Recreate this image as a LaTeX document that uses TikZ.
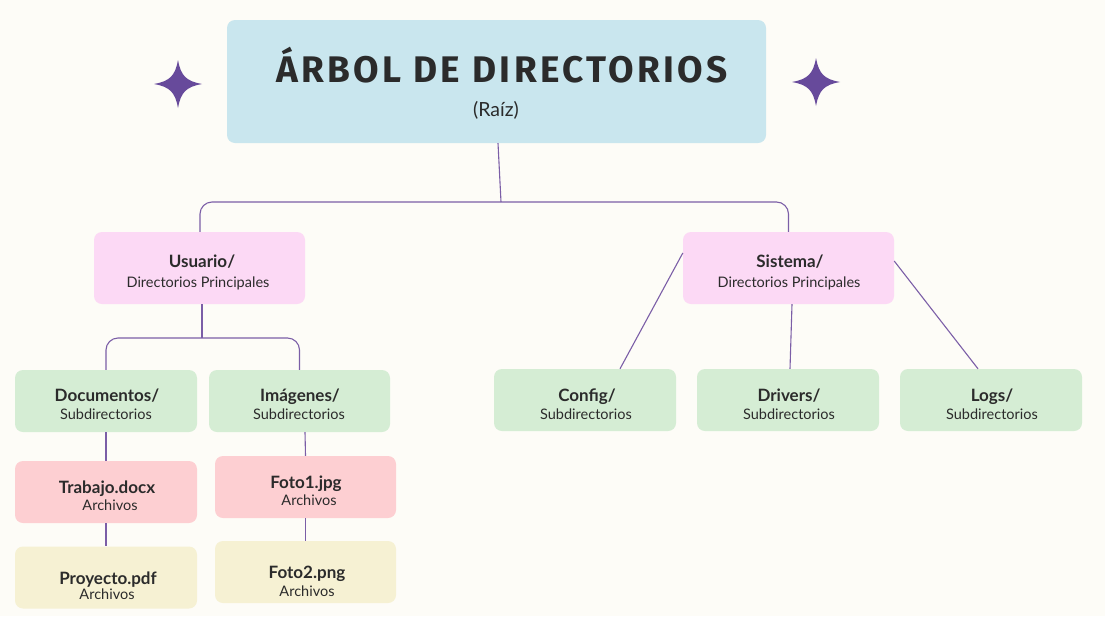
\documentclass[tikz,border=0pt]{standalone}
\usepackage{fontspec}
\setmainfont{Lato}
\newfontfamily\titlefont[LetterSpace=9]{Fira Sans}
\definecolor{bgc}{HTML}{FDFCF7}
\definecolor{rootc}{HTML}{C9E6EE}
\definecolor{pinkc}{HTML}{FCD9F5}
\definecolor{greenc}{HTML}{D5EDD4}
\definecolor{redc}{HTML}{FDCFD2}
\definecolor{yelc}{HTML}{F6F1D3}
\definecolor{linec}{HTML}{7B5EA7}
\definecolor{starc}{HTML}{674A9B}
\definecolor{txtc}{HTML}{2B2B2B}
\begin{document}
\begin{tikzpicture}[x=1pt,y=-1pt,
  box/.style={draw=none,rounded corners=8pt,inner sep=0pt},
  hd/.style={font=\fontsize{17}{19}\selectfont\bfseries,text=txtc,anchor=base,inner sep=0pt},
  sb/.style={font=\fontsize{14.5}{16}\selectfont,text=txtc,anchor=base,inner sep=0pt},
  conn/.style={draw=linec,line width=1.1pt},
  bracket/.style={draw=linec,line width=1.1pt,rounded corners=12pt}]
\fill[bgc] (0,0) rectangle (1105,616);
\useasboundingbox (0,0) rectangle (1105,616);
% root
\node[box,fill=rootc,minimum width=539pt,minimum height=123pt] (root) at (496.5,81.5) {};
\node[font=\titlefont\fontsize{37}{40}\selectfont\bfseries,text=txtc,anchor=base,inner sep=0pt] (title) at (502,82) {ÁRBOL DE DIRECTORIOS};
\node[font=\fontsize{19.5}{22}\selectfont,text=txtc,anchor=base,inner sep=0pt] (raiz) at (496,116) {(Raíz)};
% stars
\foreach \cx/\cy in {178/84,816/82}{
  \fill[starc] (\cx,\cy-24) .. controls (\cx+3,\cy-8) and (\cx+8,\cy-3) .. (\cx+24,\cy)
    .. controls (\cx+8,\cy+3) and (\cx+3,\cy+8) .. (\cx,\cy+24)
    .. controls (\cx-3,\cy+8) and (\cx-8,\cy+3) .. (\cx-24,\cy)
    .. controls (\cx-8,\cy-3) and (\cx-3,\cy-8) .. cycle;
}
% level 1
\node[box,fill=pinkc,minimum width=211pt,minimum height=72pt] (usu) at (199.5,268) {};
\node[hd] (usuA) at (202,267) {Usuario/};
\node[sb] (usuB) at (198,287) {Directorios Principales};
\node[box,fill=pinkc,minimum width=211pt,minimum height=72pt] (sis) at (788.5,268) {};
\node[hd] (sisA) at (790,267) {Sistema/};
\node[sb] (sisB) at (789,287) {Directorios Principales};
% level 2 left
\node[box,fill=greenc,minimum width=182pt,minimum height=62pt] (doc) at (106,401) {};
\node[hd] (docA) at (107,401) {Documentos/};
\node[sb] (docB) at (106,419) {Subdirectorios};
\node[box,fill=greenc,minimum width=181pt,minimum height=62pt] (img) at (299.5,401) {};
\node[hd] (imgA) at (300,401) {Imágenes/};
\node[sb] (imgB) at (299,419) {Subdirectorios};
% level 2 right
\node[box,fill=greenc,minimum width=182pt,minimum height=62pt] (cfg) at (585,400) {};
\node[hd] (cfgA) at (587,401) {Config/};
\node[sb] (cfgB) at (586,419) {Subdirectorios};
\node[box,fill=greenc,minimum width=182pt,minimum height=62pt] (drv) at (788,400) {};
\node[hd] (drvA) at (789,401) {Drivers/};
\node[sb] (drvB) at (789,419) {Subdirectorios};
\node[box,fill=greenc,minimum width=182pt,minimum height=62pt] (logs) at (991,400) {};
\node[hd] (logsA) at (992,401) {Logs/};
\node[sb] (logsB) at (992,419) {Subdirectorios};
% files
\node[box,fill=redc,minimum width=182pt,minimum height=62pt] (trab) at (106,492) {};
\node[hd] (trabA) at (107,493) {Trabajo.docx};
\node[sb] (trabB) at (110,510) {Archivos};
\node[box,fill=yelc,minimum width=182pt,minimum height=62pt] (proy) at (106,577.5) {};
\node[hd] (proyA) at (108,584) {Proyecto.pdf};
\node[sb] (proyB) at (107,599) {Archivos};
\node[box,fill=redc,minimum width=181pt,minimum height=62pt] (f1) at (305.5,487) {};
\node[hd] (f1A) at (306,488) {Foto1.jpg};
\node[sb] (f1B) at (309,505) {Archivos};
\node[box,fill=yelc,minimum width=181pt,minimum height=62pt] (f2) at (305.5,572) {};
\node[hd] (f2A) at (307,578) {Foto2.png};
\node[sb] (f2B) at (307,596) {Archivos};
% connectors
\coordinate (j1) at (501,202);
\coordinate (j2) at (202,338);
\draw[conn] ([xshift=1.5pt]root.south) -- (j1);
\draw[bracket] ([xshift=0.5pt]usu.north) |- (j1) -| (sis.north);
\draw[conn] ([xshift=2.5pt]usu.south) -- (j2);
\draw[bracket] (doc.north) |- (j2) -| (img.north);
\draw[conn] (doc.south) -- (trab.north);
\draw[conn] (trab.south) -- (proy.north);
\draw[conn] ([xshift=5.5pt]img.south) -- (f1.north);
\draw[conn] (f1.south) -- (f2.north);
\draw[conn] ([yshift=15pt]sis.west) -- ([xshift=35pt]cfg.north);
\draw[conn] ([xshift=3.5pt]sis.south) -- ([xshift=2pt]drv.north);
\draw[conn] ([yshift=7pt]sis.east) -- ([xshift=-13pt]logs.north);
\end{tikzpicture}
\end{document}
